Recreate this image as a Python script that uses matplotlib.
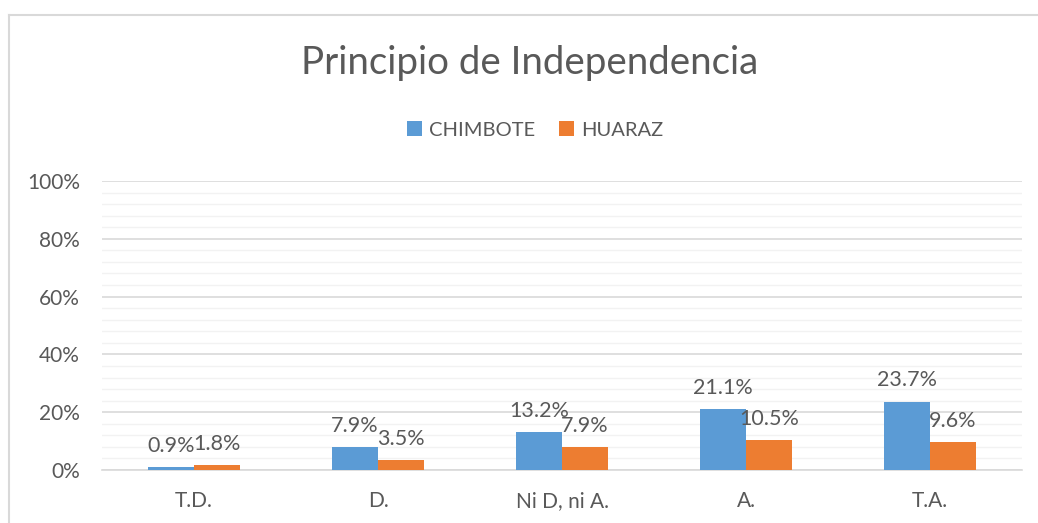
import matplotlib
matplotlib.use('Agg')
from matplotlib import pyplot as plt
from matplotlib.lines import Line2D
import numpy as np

categorias = ['T.D.', 'D.', 'Ni D, ni A.', 'A.', 'T.A.']
chimbote = [0.9, 7.9, 13.2, 21.1, 23.7]
huaraz = [1.8, 3.5, 7.9, 10.5, 9.6]
series = ['CHIMBOTE', 'HUARAZ']
cores = ['#5B9BD5', '#ED7D31']

plt.rcParams['font.family'] = ['Lato', 'DejaVu Sans']
cinza = '#595959'

fig = plt.figure(figsize=(10.38, 5.23), dpi=100)
ax = fig.add_axes([102 / 1038, 1 - 470 / 523, 920 / 1038, 289 / 523])

x = np.arange(len(categorias))
w = 0.25
b1 = ax.bar(x - w / 2, chimbote, width=w, color=cores[0], label=series[0], zorder=3)
b2 = ax.bar(x + w / 2, huaraz, width=w, color=cores[1], label=series[1], zorder=3)

# rótulos de dados
for bars in (b1, b2):
    for bar in bars:
        yval = bar.get_height()
        ax.annotate(f'{yval:.1f}%', (bar.get_x() + bar.get_width() / 2, yval),
                    xytext=(0, 8), textcoords='offset points',
                    ha='center', va='bottom', fontsize=15.5, color=cinza)

ax.set_xlim(-0.5, len(categorias) - 0.5)
ax.set_ylim(0, 100)
ax.set_yticks(np.arange(0, 101, 20))
ax.set_yticklabels([f'{v}%' for v in range(0, 101, 20)])
ax.set_yticks(np.arange(0, 101, 4), minor=True)
ax.set_xticks(x)
ax.set_xticklabels(categorias)
ax.tick_params(axis='both', length=0, labelsize=15, colors=cinza, which='both')
ax.tick_params(axis='x', pad=15)
ax.tick_params(axis='y', pad=16)
ax.grid(axis='y', which='major', color='#D9D9D9', linewidth=1.2, zorder=0)
ax.grid(axis='y', which='minor', color='#F2F2F2', linewidth=1.0, zorder=0)
for s in ['top', 'right', 'left']:
    ax.spines[s].set_visible(False)
ax.spines['bottom'].set_color('#D9D9D9')
ax.spines['bottom'].set_linewidth(1.2)

fig.text(530 / 1038, 1 - 63 / 523, 'Principio de Independencia', ha='center', va='center',
         fontsize=27.7, color=cinza)
fig.legend(handles=[b1, b2], loc='center', bbox_to_anchor=(535 / 1038, 1 - 130 / 523),
           ncol=2, frameon=False, fontsize=14.5, labelcolor=cinza, handlelength=0.75,
           handleheight=0.75, columnspacing=1.2, handletextpad=0.35)

# borda do gráfico
fig.add_artist(Line2D([9 / 1038, 9 / 1038], [0, 1 - 15 / 523], transform=fig.transFigure,
                      color='#D9D9D9', linewidth=1.5))
fig.add_artist(Line2D([9 / 1038, 1], [1 - 15 / 523, 1 - 15 / 523], transform=fig.transFigure,
                      color='#D9D9D9', linewidth=1.5))

plt.savefig('out.png', dpi=100)
